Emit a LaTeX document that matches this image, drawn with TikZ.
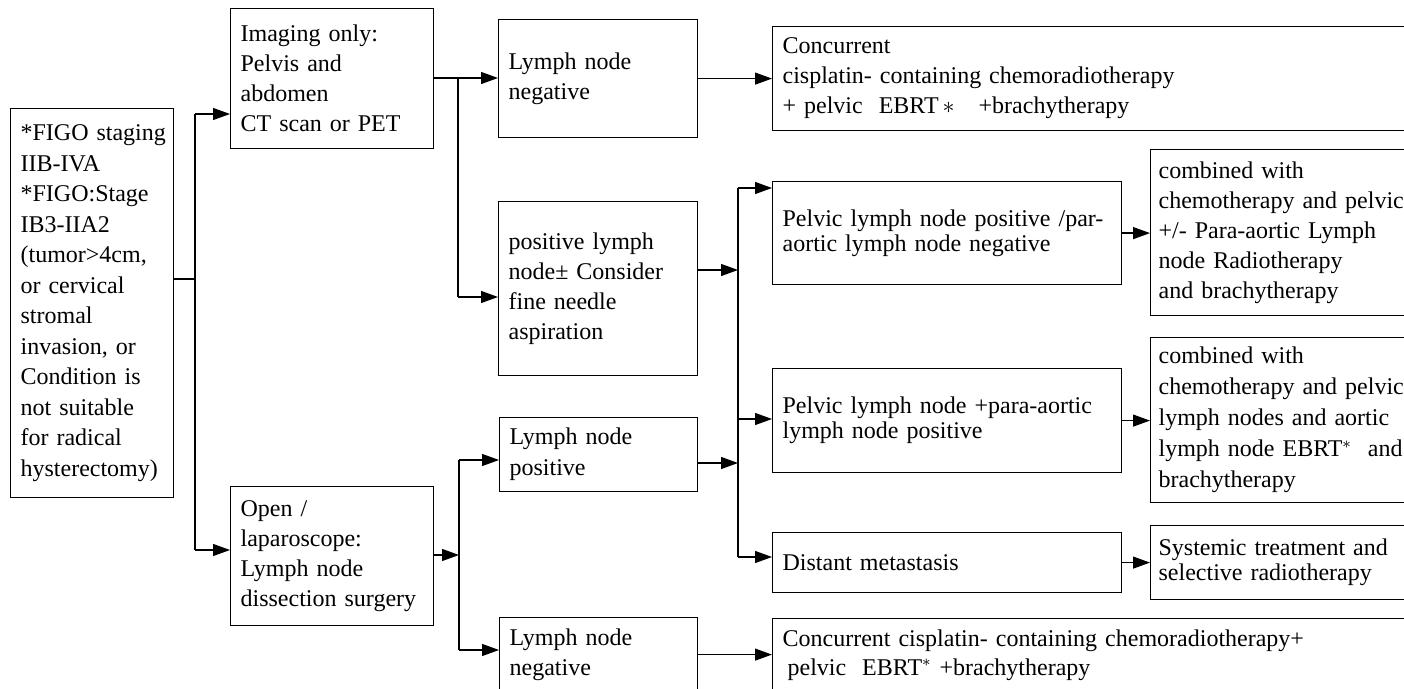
\documentclass[tikz,border=0pt]{standalone}
\usepackage{fontspec}
\setmainfont{Liberation Serif}
\usetikzlibrary{arrows.meta}
\hyphenpenalty=10000
\exhyphenpenalty=10000
\begin{document}
\begin{tikzpicture}[x=0.5pt,y=-0.5pt,
  box/.style={draw, line width=0.6pt, anchor=north west, align=left,
    inner xsep=5pt, inner ysep=0pt, font=\fontsize{12}{15}\selectfont},
  rbox/.style={box, inner xsep=4pt},
  arr/.style={line width=0.6pt, -{Triangle[length=8.5pt,width=6pt]}},
  ln/.style={line width=0.6pt}]
\useasboundingbox (0,0) rectangle (1404,689);
\clip (0,0) rectangle (1404,689);

% boxes
\node[box, minimum width=81.5pt, minimum height=194.5pt, text width=71.5pt,
  font=\fontsize{12}{15.25}\selectfont] (L) at (10,108)
  {\mbox{*FIGO staging}\\{}IIB-IVA\\{}*FIGO:Stage\\{}IB3-IIA2\\{}(tumor>4cm,\\{}or cervical\\{}stromal\\{}invasion, or\\{}Condition is\\{}not suitable\\{}for radical\\{}\mbox{hysterectomy)}};
\node[box, minimum width=101.5pt, minimum height=70pt, text width=91.5pt] (img) at (230,8)
  {Imaging only:\\Pelvis and\\abdomen\\CT scan or PET};
\node[box, minimum width=99.5pt, minimum height=59pt, text width=89.5pt] (lnn1) at (498,19)
  {Lymph node\\negative};
\node[box, minimum width=324pt, minimum height=52pt, text width=314pt] (conc1) at (772,26)
  {Concurrent\\cisplatin- containing chemoradiotherapy\\+ pelvic\ \ EBRT\,$\ast$\ \ \ +brachytherapy};
\node[box, minimum width=99.5pt, minimum height=87pt, text width=89.5pt] (pos) at (498,201)
  {positive lymph\\node± Consider\\fine needle\\aspiration};
\node[box, minimum width=174.5pt, minimum height=51.5pt, text width=164.5pt,
  font=\fontsize{12}{12.5}\selectfont] (pel1) at (772,181)
  {Pelvic lymph node positive /par-\\aortic lymph node negative};
\node[rbox, minimum width=135pt, minimum height=83pt, text width=127pt] (r1) at (1150,149)
  {combined with\\chemotherapy and pelvic\\+/- Para-aortic Lymph\\node Radiotherapy\\and brachytherapy};
\node[box, minimum width=174.5pt, minimum height=52pt, text width=164.5pt,
  font=\fontsize{12}{12.5}\selectfont] (pel2) at (772,368)
  {Pelvic lymph node +para-aortic\\lymph node positive};
\node[rbox, minimum width=135pt, minimum height=82.5pt, text width=127pt,
  font=\fontsize{12}{15.5}\selectfont] (r2) at (1150,337)
  {combined with\\chemotherapy and pelvic\\lymph nodes and aortic\\lymph node EBRT$^{*}$\ \ and\\brachytherapy};
\node[box, minimum width=174.5pt, minimum height=30pt, text width=164.5pt] (dist) at (772,532)
  {Distant metastasis};
\node[rbox, minimum width=135pt, minimum height=37pt, text width=127pt,
  font=\fontsize{12}{12.5}\selectfont] (r3) at (1150,525)
  {Systemic treatment and\\selective radiotherapy};
\node[box, minimum width=101.5pt, minimum height=69.5pt, text width=91.5pt] (open) at (230,486)
  {Open /\\laparoscope:\\Lymph node\\dissection surgery};
\node[box, minimum width=99pt, minimum height=37pt, text width=89pt,
  font=\fontsize{12}{15.5}\selectfont] (lnpos) at (499,417)
  {Lymph node\\positive};
\node[box, minimum width=99pt, minimum height=37pt, text width=89pt] (lnneg2) at (499,617)
  {Lymph node\\negative};
\node[box, minimum width=324pt, minimum height=36.5pt, text width=314pt,
  font=\fontsize{12}{14.5}\selectfont] (conc2) at (772,618)
  {Concurrent cisplatin- containing chemoradiotherapy+\\\hspace*{2.5pt}pelvic\ \ EBRT$^{*}$\ +brachytherapy};

% junction points
\coordinate (j1) at (195,279);
\coordinate (j1t) at (195,114);
\coordinate (j1b) at (195,550);
\coordinate (j2) at (458,78);
\coordinate (j2b) at (458,297);
\coordinate (j3t) at (738,188);
\coordinate (j3a) at (738,270);
\coordinate (j3m) at (738,419);
\coordinate (j3c) at (738,463);
\coordinate (j3b) at (738,557);
\coordinate (j4) at (459,555);
\coordinate (j4t) at (459,460);
\coordinate (j4b) at (459,650);

% connectors
\draw[ln] (L.east |- j1) -- (j1);
\draw[ln] (j1t) -- (j1b);
\draw[arr] (j1t) -- (j1t -| img.west);
\draw[arr] (j1b) -- (j1b -| open.west);

\draw[ln] (img.east |- j2) -- (j2);
\draw[arr] (j2) -- (j2 -| lnn1.west);
\draw[ln] (j2) -- (j2b);
\draw[arr] (j2b) -- (j2b -| pos.west);
\draw[arr] (lnn1.east) -- (lnn1.east -| conc1.west);

\draw[arr] (pos.east |- j3a) -- (j3a);
\draw[ln] (j3t) -- (j3b);
\draw[arr] (j3t) -- (j3t -| pel1.west);
\draw[arr] (j3m) -- (j3m -| pel2.west);
\draw[arr] (j3b) -- (j3b -| dist.west);
\draw[arr] (pel1.east) -- (pel1.east -| r1.west);
\draw[arr] (pel2.east) -- (pel2.east -| r2.west);
\draw[arr] (dist.east) -- (dist.east -| r3.west);

\draw[arr] (open.east |- j4) -- (j4);
\draw[ln] (j4t) -- (j4b);
\draw[arr] (j4t) -- (j4t -| lnpos.west);
\draw[arr] (j4b) -- (j4b -| lnneg2.west);
\draw[arr] (lnpos.east |- j3c) -- (j3c);
\draw[arr] (lnneg2.east) -- (lnneg2.east -| conc2.west);
\end{tikzpicture}
\end{document}
